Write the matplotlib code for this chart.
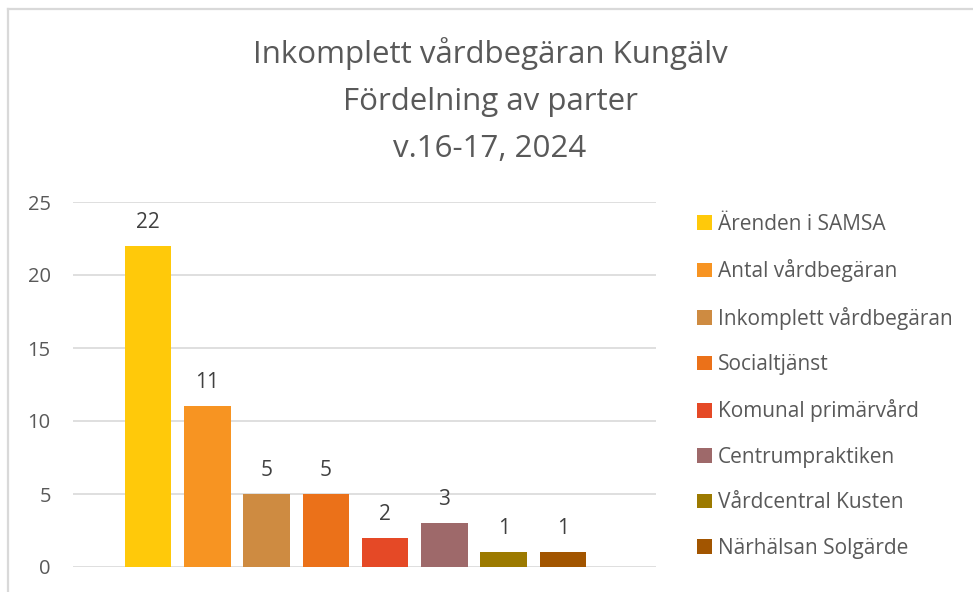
import matplotlib
matplotlib.use("Agg")
import matplotlib.pyplot as plt
from matplotlib.patches import Patch
from matplotlib.lines import Line2D

# ──────────────────────────────────────────────
# Data
# ──────────────────────────────────────────────
parter = [
    "Ärenden i SAMSA",
    "Antal vårdbegäran",
    "Inkomplett vårdbegäran",
    "Socialtjänst",
    "Komunal primärvård",
    "Centrumpraktiken",
    "Vårdcentral Kusten",
    "Närhälsan Solgärde",
]
antal = [22, 11, 5, 5, 2, 3, 1, 1]
farger = ["#FFC90A", "#F79422", "#CE8B41", "#EB7119",
          "#E54926", "#9E696A", "#9C7A00", "#A25500"]
y_ticks = [0, 5, 10, 15, 20, 25]
title_lines = ["Inkomplett vårdbegäran Kungälv", "Fördelning av parter", "v.16-17, 2024"]

plt.rcParams["font.family"] = ["Open Sans", "DejaVu Sans"]

W, H = 973, 592
fig = plt.figure(figsize=(W / 100, H / 100), dpi=100)
fig.patch.set_facecolor("white")

# frame of the chart area (top and left edges visible)
fig.add_artist(Line2D([8 / W, 1], [1 - 9 / H, 1 - 9 / H], color="#d9d9d9", lw=1.6))
fig.add_artist(Line2D([8 / W, 8 / W], [0, 1 - 9 / H], color="#d9d9d9", lw=1.6))

ax = fig.add_axes([73 / W, 1 - 567 / H, (656 - 73) / W, (567 - 202) / H])
x = list(range(len(antal)))
bars = ax.bar(x, antal, width=0.787, color=farger, zorder=3)

for b, v in zip(bars, antal):
    ax.annotate(f"{v}", (b.get_x() + b.get_width() / 2, v), xytext=(0, 13),
                textcoords="offset points", ha="center", va="baseline",
                fontsize=15, color="#404040")

ax.set_xlim(-1.265, 7 + 93 / 59.3)
ax.set_ylim(0, 25)
ax.set_yticks(y_ticks)
ax.set_xticks([])
ax.grid(True, axis="y", color="#d9d9d9", lw=1.2, zorder=0)
for s in ax.spines.values():
    s.set_visible(False)
ax.tick_params(axis="y", length=0, pad=16, labelsize=14.5, labelcolor="#595959")

# title, three centred lines
baselines = [63, 110, 157]
for txt, by in zip(title_lines, baselines):
    fig.text(490 / W, 1 - by / H, txt, ha="center", va="baseline",
             fontsize=22.5, color="#595959")

handles = [Patch(facecolor=c, edgecolor="none") for c in farger]
fig.legend(handles, parter, loc="upper left", bbox_to_anchor=(697 / W, 1 - 214 / H),
           frameon=False, fontsize=15, labelcolor="#595959",
           handlelength=0.7, handleheight=0.7, handletextpad=0.3,
           labelspacing=1.17, borderpad=0, borderaxespad=0)

fig.savefig("out.png", dpi=100, facecolor="white")
